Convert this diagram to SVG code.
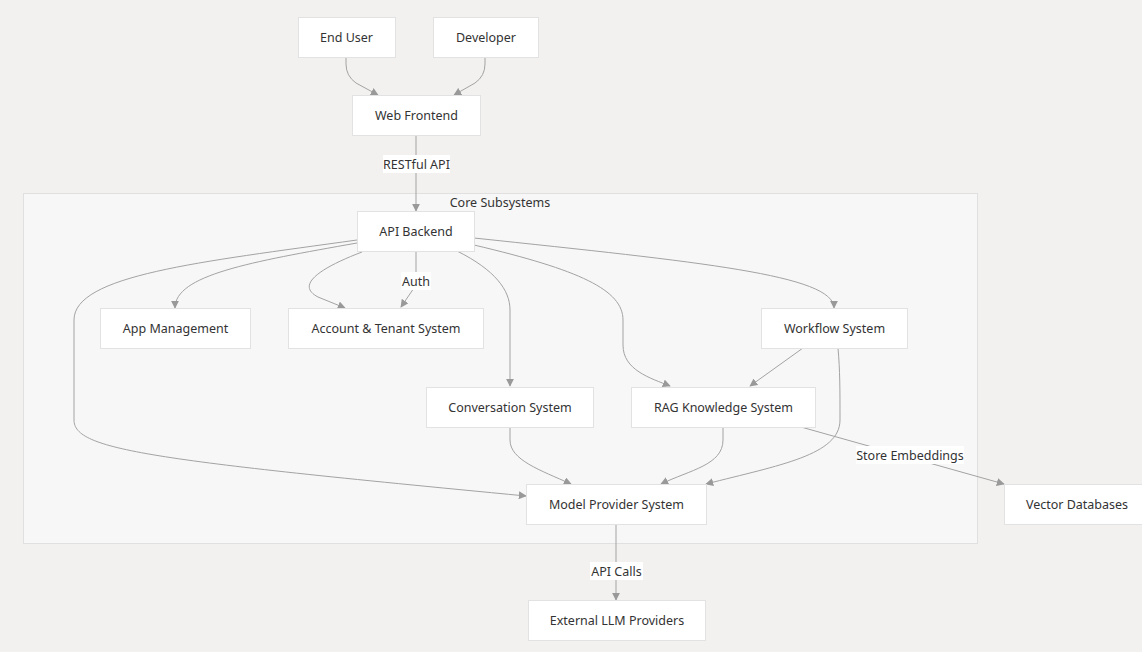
<svg xmlns="http://www.w3.org/2000/svg" width="1142" height="652" viewBox="0 0 1142 652">
<defs>
<marker id="arr" viewBox="0 0 10 10" refX="9" refY="5" markerWidth="8" markerHeight="8" orient="auto-start-reverse" markerUnits="userSpaceOnUse">
<path d="M0,0 L10,5 L0,10 z" fill="#999"/>
</marker>
<style>
.n rect{fill:#fff;stroke:#e2e2e2;stroke-width:1}
text{font-family:"Noto Sans","Open Sans","DejaVu Sans",sans-serif;font-size:12.5px;fill:#333;text-anchor:middle;dominant-baseline:central}
.e path{fill:none;stroke:#a3a3a3;stroke-width:1;marker-end:url(#arr)}
.lb rect{fill:#fff}
</style>
</defs>
<rect width="1142" height="652" fill="#f2f1ef"/>
<g id="cluster">
<rect x="23.5" y="193.5" width="954" height="350" fill="#f7f7f7" stroke="#e0e0e0"/>
<text x="500" y="202">Core Subsystems</text>
</g>
<g class="e" id="connectors">
<path d="M346,57 L346,64 Q346,76 356,83 L378,95"/>
<path d="M485,57 L485,64 Q485,76 475,83 L454,95"/>
<path d="M416,135 V211"/>
<path d="M357,243 C250,262 175,275 175,308"/>
<path d="M362,252 C320,268 295,285 318,297 L345,308"/>
<path d="M416,251 V285 L401,307"/>
<path d="M357,240 C200,262 74,275 74,320 V420 C74,450 150,460 526,496"/>
<path d="M457,251 C495,270 510,290 510,310 V386"/>
<path d="M474,245 C580,270 623,290 623,320 V345 C623,370 650,378 670,386"/>
<path d="M474,238 C700,262 834,275 834,308"/>
<path d="M803,348 L750,386"/>
<path d="M838,348 C840,370 840,390 840,420 C840,455 780,465 706,484"/>
<path d="M510,427 V440 C510,460 540,470 571,484"/>
<path d="M723,427 V440 C723,465 690,470 661,484"/>
<path d="M801,427 L1004,484"/>
<path d="M616,524 V600"/>
</g>
<g class="lb" id="edge-labels">
<rect x="383" y="155" width="67" height="18"/><text x="416.5" y="164">RESTful API</text>
<rect x="401" y="272" width="30" height="18"/><text x="416" y="281">Auth</text>
<rect x="856" y="446" width="108" height="18"/><text x="910" y="455">Store Embeddings</text>
<rect x="590" y="562" width="53" height="18"/><text x="616.5" y="571">API Calls</text>
</g>
<g class="n" id="end-user"><rect x="298.5" y="17.5" width="97" height="40"/><text x="346.5" y="37.5">End User</text></g>
<g class="n" id="developer"><rect x="433.5" y="17.5" width="105" height="40"/><text x="486" y="37.5">Developer</text></g>
<g class="n" id="web-frontend"><rect x="352.5" y="95.5" width="128" height="40"/><text x="416.5" y="115.5">Web Frontend</text></g>
<g class="n" id="api-backend"><rect x="357.5" y="211.5" width="117" height="40"/><text x="416" y="231.5">API Backend</text></g>
<g class="n" id="app-management"><rect x="100.5" y="308.5" width="150" height="40"/><text x="175.5" y="328.5">App Management</text></g>
<g class="n" id="account-tenant"><rect x="288.5" y="308.5" width="195" height="40"/><text x="386" y="328.5">Account &amp; Tenant System</text></g>
<g class="n" id="workflow"><rect x="761.5" y="308.5" width="146" height="40"/><text x="834.5" y="328.5">Workflow System</text></g>
<g class="n" id="conversation"><rect x="426.5" y="387.5" width="167" height="40"/><text x="510" y="407.5">Conversation System</text></g>
<g class="n" id="rag"><rect x="631.5" y="387.5" width="184" height="40"/><text x="723.5" y="407.5">RAG Knowledge System</text></g>
<g class="n" id="model-provider"><rect x="526.5" y="484.5" width="180" height="40"/><text x="616.5" y="504.5">Model Provider System</text></g>
<g class="n" id="vector-db"><rect x="1004.5" y="484.5" width="145" height="40"/><text x="1077" y="504.5">Vector Databases</text></g>
<g class="n" id="external-llm"><rect x="528.5" y="600.5" width="177" height="40"/><text x="617" y="620.5">External LLM Providers</text></g>
</svg>
